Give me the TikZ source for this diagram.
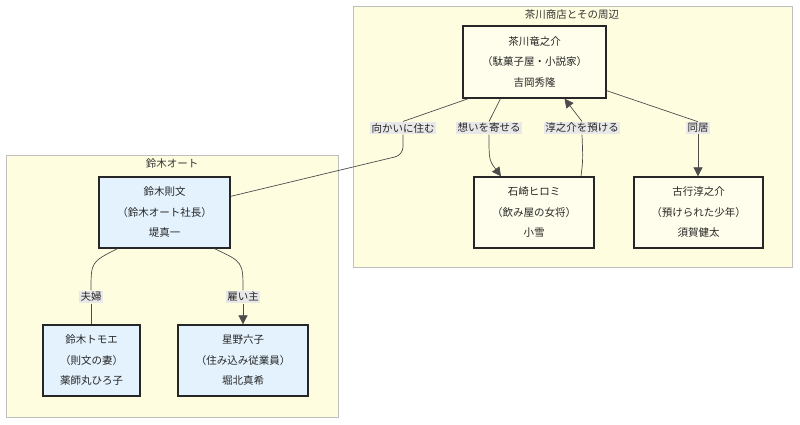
\documentclass[tikz,border=0pt]{standalone}
\usepackage{fontspec}
\setmainfont{Noto Sans CJK JP}
\usetikzlibrary{arrows.meta,calc}
\definecolor{clfill}{HTML}{FFFDE0}
\definecolor{ynode}{HTML}{FFFDEB}
\definecolor{bnode}{HTML}{E3F2FD}
\begin{document}
\begin{tikzpicture}[x=1pt,y=-1pt,
  cluster/.style={draw=black!25,fill=clfill,line width=0.8pt},
  ctitle/.style={font=\fontsize{10.5}{12}\selectfont,text=black!80},
  person/.style={draw=black!85,line width=1.3pt,align=center,font=\fontsize{10.5}{20.5}\selectfont,text=black!85,inner sep=0pt},
  yel/.style={fill=ynode},
  blu/.style={fill=bnode},
  lbl/.style={fill=black!9,font=\fontsize{10.5}{12}\selectfont,text=black!85,inner sep=1.5pt},
  edge/.style={draw=black!70,line width=0.7pt,rounded corners=8pt},
  arr/.style={edge,-{Triangle[length=9pt,width=9pt]}}]
\useasboundingbox (0,0) rectangle (800,425);
\fill[white] (0,0) rectangle (800,425);
\draw[cluster] (353,6) rectangle (792,267);
\node[ctitle] (t1) at (572,15) {茶川商店とその周辺};
\draw[cluster] (6,155) rectangle (338,417);
\node[ctitle] (t2) at (172,164) {鈴木オート};

\node[person,yel,minimum width=143,minimum height=72] (ch) at (534.5,62) {茶川竜之介\\（駄菓子屋・小説家）\\吉岡秀隆};
\node[person,yel,minimum width=120,minimum height=71] (is) at (534,212.5) {石崎ヒロミ\\（飲み屋の女将）\\小雪};
\node[person,yel,minimum width=129,minimum height=71] (fu) at (698.5,212.5) {古行淳之介\\（預けられた少年）\\須賀健太};
\node[person,blu,minimum width=131,minimum height=71] (su) at (164.5,212.5) {鈴木則文\\（鈴木オート社長）\\堤真一};
\node[person,blu,minimum width=97,minimum height=71] (to) at (91.5,360.5) {鈴木トモエ\\（則文の妻）\\薬師丸ひろ子};
\node[person,blu,minimum width=130,minimum height=71] (ho) at (243,360.5) {星野六子\\（住み込み従業員）\\堀北真希};

\node[lbl] (l1) at (403,128) {向かいに住む};
\node[lbl] (l2) at (489,128) {想いを寄せる};
\node[lbl] (l3) at (582,128) {淳之介を預ける};
\node[lbl] (l4) at (698,128) {同居};
\node[lbl] (l5) at (91,297) {夫婦};
\node[lbl] (l6) at (243,297) {雇い主};

\coordinate (sue) at ($(su.north east)+(0,20)$);
\draw[edge] ($(ch.south west)+(6,0)$) -- (l1.north);
\draw[edge] (l1.south) -- (403,155) -- (sue);
\draw[edge] ($(ch.south)+(-34,0)$) -- (l2.north);
\draw[arr] (l2.south) .. controls (489,160) .. ($(is.north)+(-33,0)$);
\draw[edge] ($(is.north)+(47,0)$) .. controls (583,160) .. (l3.south);
\draw[arr] (l3.north) -- ($(ch.south)+(30,0)$);
\draw[edge] ($(ch.south east)+(0,-8)$) -- (l4.north);
\draw[arr] (l4.south) -- (fu.north-|l4);
\draw[edge] ($(su.south)+(-47,0)$) .. controls (91,262) .. (l5.north);
\draw[edge] (l5.south) -- (to.north-|l5);
\draw[edge] ($(su.south)+(50,0)$) .. controls (243,262) .. (l6.north);
\draw[arr] (l6.south) -- (ho.north-|l6);
\end{tikzpicture}
\end{document}
